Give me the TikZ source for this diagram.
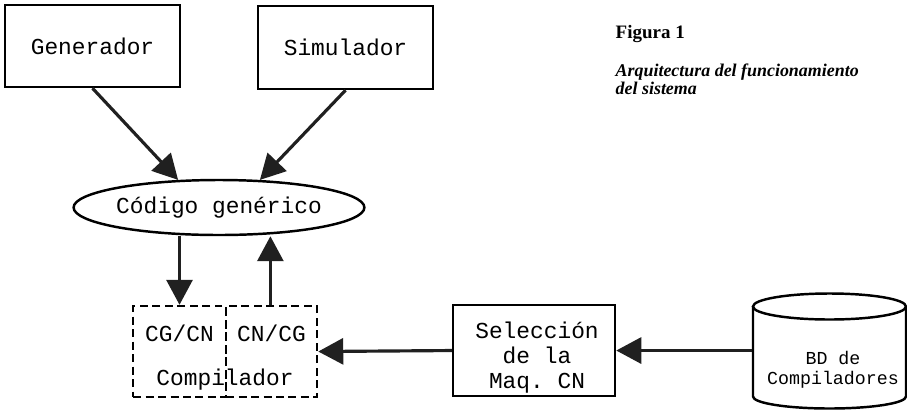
\documentclass[tikz,border=0pt]{standalone}
\usepackage{fontspec}
\setmainfont{Liberation Serif}
\setmonofont{Liberation Mono}
\usetikzlibrary{shapes.geometric,arrows.meta}

\begin{document}
\begin{tikzpicture}[scale=0.1]
                \tikzstyle{every node}+=[inner sep=0pt, font=\ttfamily\fontsize{6.5}{7}\selectfont]
                \tikzstyle{box}=[draw=black, line width=0.7pt, rectangle]
                \tikzstyle{half}=[draw=black, line width=0.7pt, rectangle, dash pattern=on 0.8mm off 0.45mm]
                \tikzstyle{flow}=[draw=gray!25!black, line width=0.9pt, -{Triangle[length=2.5mm,width=2.6mm]}]
                \useasboundingbox (0,0) rectangle (90.7,-41);
                % upper row
                \node [box, minimum width=17.5mm, minimum height=8.2mm] (gen) at (9.25,-4.6) {Generador};
                \node [box, minimum width=17.5mm, minimum height=8.3mm] (sim) at (34.55,-4.75) {Simulador};
                \node [draw=black, line width=0.7pt, ellipse, minimum width=28.8mm, minimum height=5.5mm] (code) at (21.9,-20.75) {C\'odigo gen\'erico};
                % caption
                \node [anchor=base west, font=\rmfamily\bfseries\fontsize{5.4}{6}\selectfont] (fig) at (61.5,-3.8) {Figura 1};
                \node [anchor=north west, align=left, font=\rmfamily\bfseries\itshape\fontsize{5.1}{5.3}\selectfont] (cap) at (61.5,-6.3) {Arquitectura del funcionamiento\\del sistema};
                % compilador
                \node [half, minimum width=9.3mm, minimum height=9.1mm] (cgcn) at (17.95,-35.15) {};
                \node [half, minimum width=9.1mm, minimum height=9.1mm] (cncg) at (27.15,-35.15) {};
                \node (cgcntxt) at (17.95,-33.3) {CG/CN};
                \node (cncgtxt) at (27.15,-33.3) {CN/CG};
                \node (comptxt) at (22.5,-38.0) {Compilador};
                % seleccion and data base
                \node [box, minimum width=16.2mm, minimum height=9.1mm] (sel) at (53.4,-35.05) {};
                \node [align=center] (seltxt) at (53.7,-35.75) {Selecci\'on\\de la\\Maq. CN};
                \node [minimum width=15.3mm, minimum height=11.5mm] (db) at (82.95,-35.05) {};
                \draw [black, line width=0.7pt] (82.95,-30.65) ellipse (7.65 and 1.3);
                \draw [black, line width=0.7pt] (75.3,-30.65) -- (75.3,-39.65) arc (180:360:7.65 and 1.2) -- (90.6,-30.65);
                \node [align=center, font=\ttfamily\fontsize{5.2}{5.7}\selectfont] (dbtxt) at (83.3,-37.0) {BD de\\Compiladores};
                % connectors
                \draw [flow] (gen.south) -- (code.146);
                \draw [flow] (sim.south) -- (code.34);
                \draw [flow] (code.south -| cgcn.north) -- (cgcn.north);
                \path ([xshift=-1.15mm]cncg.north) coordinate (upfoot);
                \draw [flow] (upfoot) -- (upfoot |- code.south);
                \draw [flow] (sel.west) -- (cncg.east);
                \draw [flow] (db.west) -- (sel.east);
            \end{tikzpicture}
\end{document}
